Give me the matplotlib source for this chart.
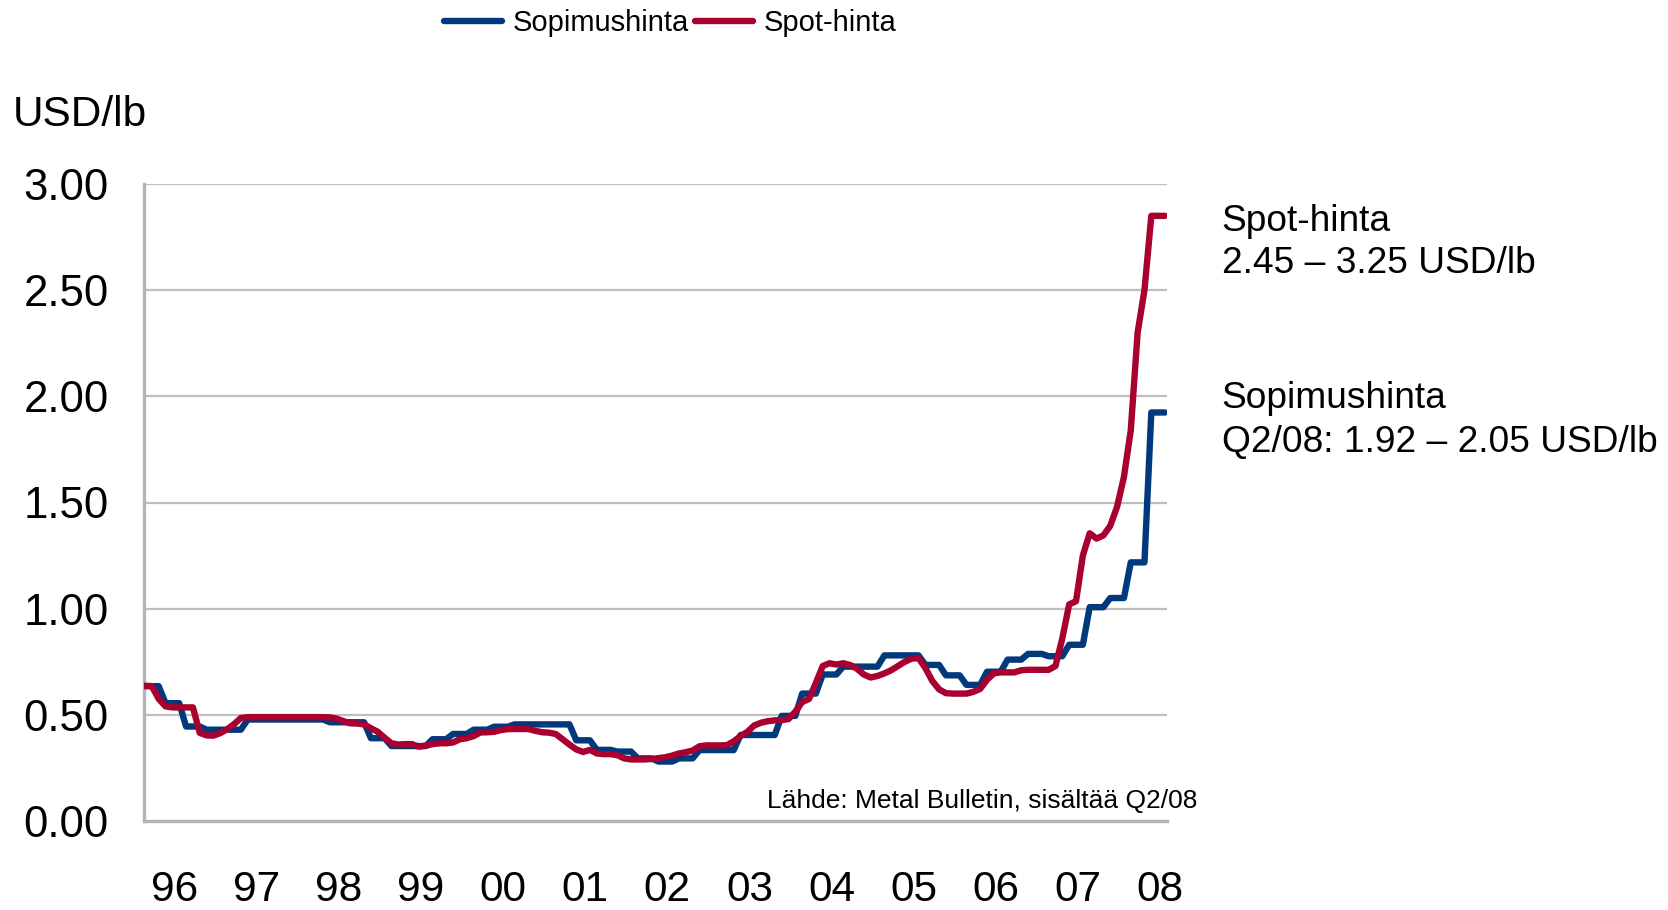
import matplotlib
matplotlib.use('Agg')
import matplotlib.pyplot as plt
import numpy as np

plt.rcParams['font.family'] = ['Liberation Sans', 'DejaVu Sans']

# ---------------- data (monthly, Jan 1996 - Jun 2008) ----------------
year_labels = ['96', '97', '98', '99', '00', '01', '02', '03', '04', '05', '06', '07', '08']
series_names = ['Sopimushinta', 'Spot-hinta']
y_ticks = [0.0, 0.5, 1.0, 1.5, 2.0, 2.5, 3.0]

sopimushinta = [
    0.635, 0.635, 0.635, 0.555, 0.555, 0.555, 0.445, 0.445, 0.445, 0.430, 0.430, 0.430,  # 1996
    0.430, 0.430, 0.430, 0.478, 0.478, 0.478, 0.478, 0.478, 0.478, 0.478, 0.478, 0.478,  # 1997
    0.478, 0.478, 0.478, 0.465, 0.465, 0.465, 0.465, 0.465, 0.465, 0.390, 0.390, 0.390,  # 1998
    0.353, 0.353, 0.353, 0.353, 0.353, 0.353, 0.385, 0.385, 0.385, 0.410, 0.410, 0.410,  # 1999
    0.430, 0.430, 0.430, 0.444, 0.444, 0.444, 0.455, 0.455, 0.455, 0.455, 0.455, 0.455,  # 2000
    0.455, 0.455, 0.455, 0.380, 0.380, 0.380, 0.335, 0.335, 0.335, 0.327, 0.327, 0.327,  # 2001
    0.295, 0.295, 0.295, 0.280, 0.280, 0.280, 0.295, 0.295, 0.295, 0.334, 0.334, 0.334,  # 2002
    0.334, 0.334, 0.334, 0.405, 0.405, 0.405, 0.405, 0.405, 0.405, 0.495, 0.495, 0.495,  # 2003
    0.600, 0.600, 0.600, 0.690, 0.690, 0.690, 0.727, 0.727, 0.727, 0.727, 0.727, 0.727,  # 2004
    0.780, 0.780, 0.780, 0.780, 0.780, 0.780, 0.735, 0.735, 0.735, 0.686, 0.686, 0.686,  # 2005
    0.641, 0.641, 0.641, 0.703, 0.703, 0.703, 0.760, 0.760, 0.760, 0.787, 0.787, 0.787,  # 2006
    0.776, 0.776, 0.776, 0.830, 0.830, 0.830, 1.007, 1.007, 1.007, 1.050, 1.050, 1.050,  # 2007
    1.218, 1.218, 1.218, 1.924, 1.924, 1.924,                                            # 2008
]

spot_hinta = [
    0.637, 0.635, 0.575, 0.540, 0.535, 0.535, 0.535, 0.535, 0.415, 0.403, 0.402, 0.414,  # 1996
    0.432, 0.456, 0.485, 0.489, 0.489, 0.489, 0.489, 0.489, 0.489, 0.489, 0.489, 0.489,  # 1997
    0.489, 0.489, 0.489, 0.488, 0.482, 0.470, 0.460, 0.459, 0.455, 0.437, 0.420, 0.392,  # 1998
    0.366, 0.360, 0.362, 0.362, 0.350, 0.355, 0.362, 0.366, 0.366, 0.370, 0.385, 0.390,  # 1999
    0.400, 0.417, 0.418, 0.420, 0.428, 0.433, 0.433, 0.433, 0.433, 0.425, 0.418, 0.416,  # 2000
    0.410, 0.385, 0.360, 0.337, 0.325, 0.335, 0.318, 0.315, 0.315, 0.310, 0.295, 0.290,  # 2001
    0.290, 0.290, 0.292, 0.296, 0.300, 0.308, 0.318, 0.324, 0.332, 0.352, 0.356, 0.356,  # 2002
    0.356, 0.357, 0.375, 0.400, 0.420, 0.450, 0.463, 0.470, 0.474, 0.475, 0.480, 0.515,  # 2003
    0.560, 0.575, 0.650, 0.730, 0.743, 0.737, 0.743, 0.735, 0.717, 0.690, 0.676, 0.683,  # 2004
    0.695, 0.710, 0.730, 0.750, 0.765, 0.767, 0.720, 0.660, 0.620, 0.602, 0.600, 0.600,  # 2005
    0.600, 0.608, 0.622, 0.665, 0.695, 0.700, 0.700, 0.700, 0.710, 0.712, 0.712, 0.712,  # 2006
    0.712, 0.730, 0.860, 1.020, 1.035, 1.250, 1.355, 1.330, 1.345, 1.390, 1.480, 1.620,  # 2007
    1.840, 2.300, 2.500, 2.850, 2.850, 2.850,                                            # 2008
]

annotations = [
    ('Spot-hinta', '2.45 \u2013 3.25 USD/lb'),
    ('Sopimushinta', 'Q2/08: 1.92 \u2013 2.05 USD/lb'),
]
source_text = 'L\u00e4hde: Metal Bulletin, sis\u00e4lt\u00e4\u00e4 Q2/08'
unit_text = 'USD/lb'

# ---------------- styling ----------------
BLUE = '#003A7D'
RED = '#A8002F'
GRID = '#BFBFBF'
SPINE = '#B4B4B4'

W, H = 1668, 910
fig = plt.figure(figsize=(W / 100, H / 100), dpi=100)
ax_left, ax_right, ax_top, ax_bottom = 144, 1167, 184, 821
ax = fig.add_axes([ax_left / W, (H - ax_bottom) / H,
                   (ax_right - ax_left) / W, (ax_bottom - ax_top) / H])

months = np.arange(len(spot_hinta))
n = len(spot_hinta)
px_per_month = (1165 - 145) / (n - 1)

l1, = ax.plot(np.arange(len(sopimushinta)), sopimushinta, color=BLUE, lw=4.6,
              solid_capstyle='round', solid_joinstyle='round', zorder=3)
l2, = ax.plot(months, spot_hinta, color=RED, lw=4.6,
              solid_capstyle='round', solid_joinstyle='round', zorder=4)

ax.set_xlim(-1 / px_per_month, (n - 1) + 2 / px_per_month)
ax.set_ylim(0, 3.0)

ax.set_yticks(y_ticks)
ax.set_yticklabels([f'{v:.2f}' for v in y_ticks], fontsize=31.5)
ax.tick_params(axis='y', length=0, pad=25.5)
ax.set_xticks([])

for v in y_ticks[1:]:
    ax.axhline(v, color=GRID, lw=1.6, zorder=1)

for s in ['top', 'right']:
    ax.spines[s].set_visible(False)
for s in ['left', 'bottom']:
    ax.spines[s].set_color(SPINE)
    ax.spines[s].set_linewidth(2.4)
    ax.spines[s].set_zorder(2)

# year labels
label_y = -(901 - ax_bottom) / (ax_bottom - ax_top)
for k, lab in enumerate(year_labels):
    ax.text(12 * k + 4.3, label_y, lab, transform=ax.get_xaxis_transform(),
            ha='center', va='baseline', fontsize=30.5, color='black')

# unit label
fig.text(13 / W, 1 - 125.5 / H, unit_text, ha='left', va='baseline', fontsize=30.5)

# source
ax.text(1197 / W, 1 - 808 / H, source_text, transform=fig.transFigure,
        ha='right', va='baseline', fontsize=19, zorder=5)

# right side annotations
baselines = [(230.7, 273.3), (408.3, 451.7)]
for (t1, t2), (b1, b2) in zip(annotations, baselines):
    fig.text(1221.5 / W, 1 - b1 / H, t1, ha='left', va='baseline', fontsize=26.7)
    fig.text(1221.5 / W, 1 - b2 / H, t2, ha='left', va='baseline', fontsize=26.7)

# legend
leg = fig.legend([l1, l2], series_names, loc='center', bbox_to_anchor=(670 / W, 1 - 23 / H),
                 bbox_transform=fig.transFigure, ncol=2, frameon=False, fontsize=21,
                 handlelength=2.0, handletextpad=0.35, columnspacing=0.2,
                 borderpad=0, borderaxespad=0)

fig.savefig('out.png', dpi=100)
